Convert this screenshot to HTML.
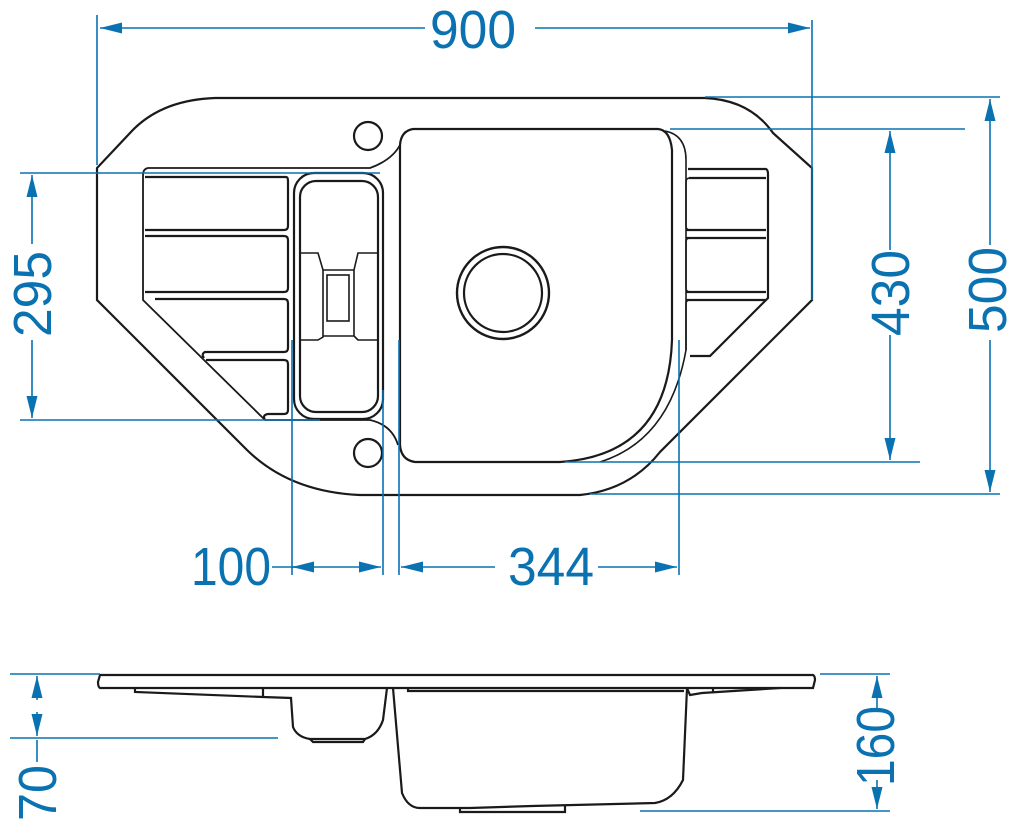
<!DOCTYPE html>
<html><head><style>html,body{margin:0;padding:0;background:#fff}svg{display:block}</style></head>
<body>
<svg width="1020" height="824" viewBox="0 0 1020 824" xmlns="http://www.w3.org/2000/svg">
<defs>
<marker id="a" viewBox="0 0 20 10" refX="20" refY="5" markerWidth="22" markerHeight="11" markerUnits="userSpaceOnUse" orient="auto-start-reverse"><path d="M0,0L20,5L0,10z" fill="#0a72b0"/></marker>
</defs>
<g fill="none" stroke="#1a1a1a" stroke-width="2.2">
<path d="M215,98 L705,98 Q750,100 773,133 L812,168 L812,300 L660,452 Q630,490 580,495 L360,495 Q290,492 247,450 L97,300 L97,168 L130,133 Q160,100 215,98 Z"/>
<path d="M413,129 L658,129 Q670,130 672,150 L672,340 Q668,455 560,462 L415,462 Q401,460 400,445 L400,145 Q401,131 413,129 Z"/>
<path d="M665,131 Q686,135 686,160 L686,350 Q670,440 600,462" stroke-width="1.6"/>
<path d="M400,145 Q392,160 370,168 L148,168 Q143,169 143,175 L143,300 L265,420 L370,420 Q392,425 398,445" stroke-width="1.8"/>
<circle cx="368" cy="136" r="14"/><circle cx="368" cy="453" r="14"/>
<circle cx="503" cy="293" r="46" stroke-width="2.4"/><circle cx="503" cy="293" r="39"/>
<path d="M145,177 L286,177 Q288,177 288,181 L288,226 Q288,230 284,230 L145,230"/>
<path d="M145,236 L284,236 Q288,236 288,240 L288,288 Q288,292 284,292 L145,292"/>
<path d="M155,299 L284,299 Q288,299 288,303 L288,348 Q288,352 284,352 L205,352 Q201,354 204,358"/>
<path d="M206,360 L284,360 Q288,360 288,364 L288,410 Q288,414 284,414 L268,414 Q262,415 265,420"/>
<rect x="294" y="173" width="89" height="246" rx="20"/>
<rect x="300" y="181" width="78" height="231" rx="16"/>
<path d="M301,253 L318,253 L323,270 L323,337 L318,340 L301,340 M378,253 L358,253 L354,270 L354,336 L358,340 L378,340 M323,270 L354,270 M323,336 L354,336" stroke-width="1.6"/>
<rect x="327" y="275" width="22" height="46" stroke-width="1.6"/>
<path d="M688,169 L766,169 Q768,170 768,174 L768,298 L710,356 L690,356"/>
<path d="M689,178 L766,178 M686,230 L766,230 M686,238 L766,238 M686,292 L766,292 M686,300 L766,300"/>
<path d="M690,178 Q686,178 686,182 L686,226 Q686,230 690,230 M690,238 Q686,238 686,242 L686,288 Q686,292 690,292 M690,300 Q686,300 686,304 L686,350" stroke-width="1.6"/>
<path d="M100,675 L813,675 Q815,676 815,680 L813,688 L100,688 Q98,687 98,682 Z"/>
<path d="M135,688 L135,692 L263,697 L291,698 L293,727 Q297,737 310,739 L365,739 Q378,735 383,720 L387,688"/>
<path d="M263,688 L263,697"/>
<path d="M393,688 L402,793 Q408,808 420,808 L470,808 L532,806 L655,803 Q673,800 683,780 L687,688 L690,695 L702,693 L780,688"/>
<path d="M408,688 L408,691 L684,691 M713,688 L713,693"/>
<path d="M460,808 L460,812 L565,812 L565,806"/>
<path d="M310,739 L313,742 L363,742 L365,739"/>
</g>
<g stroke="#0a72b0" stroke-width="1.6" fill="none">
<path d="M97,15 L97,165 M812,20 L812,300"/>
<path d="M100,28 L425,28" marker-start="url(#a)"/><path d="M535,28 L810,28" marker-end="url(#a)"/>
<path d="M20,173 L380,173 M20,420 L320,420"/>
<path d="M32,244 L32,175" marker-end="url(#a)"/><path d="M32,340 L32,418" marker-end="url(#a)"/>
<path d="M670,129 L965,129 M565,462 L920,462 M705,97 L1000,97 M590,494 L1000,494"/>
<path d="M890,250 L890,131" marker-end="url(#a)"/><path d="M890,335 L890,460" marker-end="url(#a)"/>
<path d="M990,245 L990,99" marker-end="url(#a)"/><path d="M990,340 L990,492" marker-end="url(#a)"/>
<path d="M292,340 L292,575 M383,390 L383,575 M399,340 L399,575 M679,340 L679,575"/>
<path d="M272,567 L381,567" marker-end="url(#a)"/><path d="M292,567 L300,567" marker-start="url(#a)"/>
<path d="M401,567 L495,567" marker-start="url(#a)"/><path d="M598,567 L677,567" marker-end="url(#a)"/>
<path d="M10,674 L100,674 M10,738 L278,738 M820,674 L890,674 M640,811 L890,811"/>
<path d="M37,700 L37,676" marker-end="url(#a)"/><path d="M37,712 L37,736" marker-end="url(#a)"/><path d="M37,740 L37,762"/>
<path d="M877,712 L877,676" marker-end="url(#a)"/><path d="M877,780 L877,809" marker-end="url(#a)"/>
</g>
<g fill="#0a72b0" font-family="Liberation Sans, sans-serif" font-size="54" text-anchor="middle">
<text x="473" y="48" textLength="86" lengthAdjust="spacingAndGlyphs">900</text>
<text x="231" y="585" textLength="80" lengthAdjust="spacingAndGlyphs">100</text>
<text x="551" y="585" textLength="86" lengthAdjust="spacingAndGlyphs">344</text>
<text transform="translate(51,294) rotate(-90)" textLength="86" lengthAdjust="spacingAndGlyphs">295</text>
<text transform="translate(909,293) rotate(-90)" textLength="86" lengthAdjust="spacingAndGlyphs">430</text>
<text transform="translate(1006,290) rotate(-90)" textLength="86" lengthAdjust="spacingAndGlyphs">500</text>
<text transform="translate(56,793) rotate(-90)" textLength="56" lengthAdjust="spacingAndGlyphs">70</text>
<text transform="translate(894,746) rotate(-90)" textLength="80" lengthAdjust="spacingAndGlyphs">160</text>
</g>
</svg>
</body></html>
